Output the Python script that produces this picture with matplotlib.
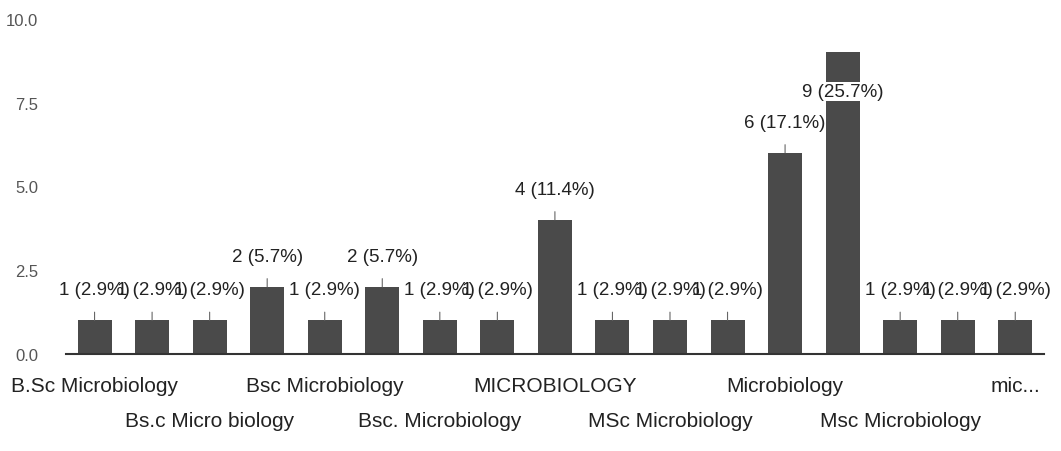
import matplotlib
matplotlib.use("Agg")
import matplotlib.pyplot as plt

# responses per degree name (Google Forms style bar chart)
categories = [
    "B.Sc Microbiology", "", "Bs.c Micro biology", "", "Bsc Microbiology", "",
    "Bsc. Microbiology", "", "MICROBIOLOGY", "", "MSc Microbiology", "",
    "Microbiology", "", "Msc Microbiology", "", "mic...",
]
counts = [1, 1, 1, 2, 1, 2, 1, 1, 4, 1, 1, 1, 6, 9, 1, 1, 1]
y_ticks = [0.0, 2.5, 5.0, 7.5, 10.0]

total = sum(counts)
plt.rcParams["font.family"] = ["Liberation Sans", "DejaVu Sans"]

fig = plt.figure(figsize=(10.61, 4.52), dpi=100)
ax = fig.add_axes([0.062, 0.215, 0.922, 0.741])

x = list(range(len(counts)))
ax.bar(x, counts, width=0.59, color="#4a4a4a", zorder=2)

ax.set_xlim(-0.5, len(counts) - 0.5)
ax.set_ylim(0, 10)
ax.set_yticks(y_ticks)
ax.set_yticklabels([f"{t:.1f}" for t in y_ticks], fontsize=12, color="#555555")
ax.tick_params(axis="y", length=0, pad=20)
ax.tick_params(axis="x", length=0)
ax.set_xticks([])
for s in ("top", "right", "left"):
    ax.spines[s].set_visible(False)
ax.spines["bottom"].set_color("#333333")
ax.spines["bottom"].set_linewidth(1.5)

# value labels with leader lines
for xi, c in zip(x, counts):
    txt = f"{c} ({c / total * 100:.1f}%)"
    if c == max(counts):
        ax.annotate(txt, (xi, c), xytext=(0, -28), textcoords="offset points",
                    ha="center", va="center", fontsize=13.5, color="#222222", zorder=4,
                    bbox=dict(boxstyle="square,pad=0.05", fc="white", ec="none"))
    else:
        ax.annotate(txt, (xi, c), xytext=(0, 22), textcoords="offset points",
                    ha="center", va="center", fontsize=13.5, color="#222222", zorder=3,
                    arrowprops=dict(arrowstyle="-", color="#666666", lw=0.8,
                                    shrinkA=8, shrinkB=0))

# category labels in two staggered rows
row = 0
for xi, name in zip(x, categories):
    if not name:
        continue
    off = -23 if row % 2 == 0 else -48
    ax.annotate(name, (xi, 0), xytext=(0, off), textcoords="offset points",
                ha="center", va="center", fontsize=15, color="#222222",
                annotation_clip=False)
    row += 1

fig.savefig("out.png", dpi=100)
